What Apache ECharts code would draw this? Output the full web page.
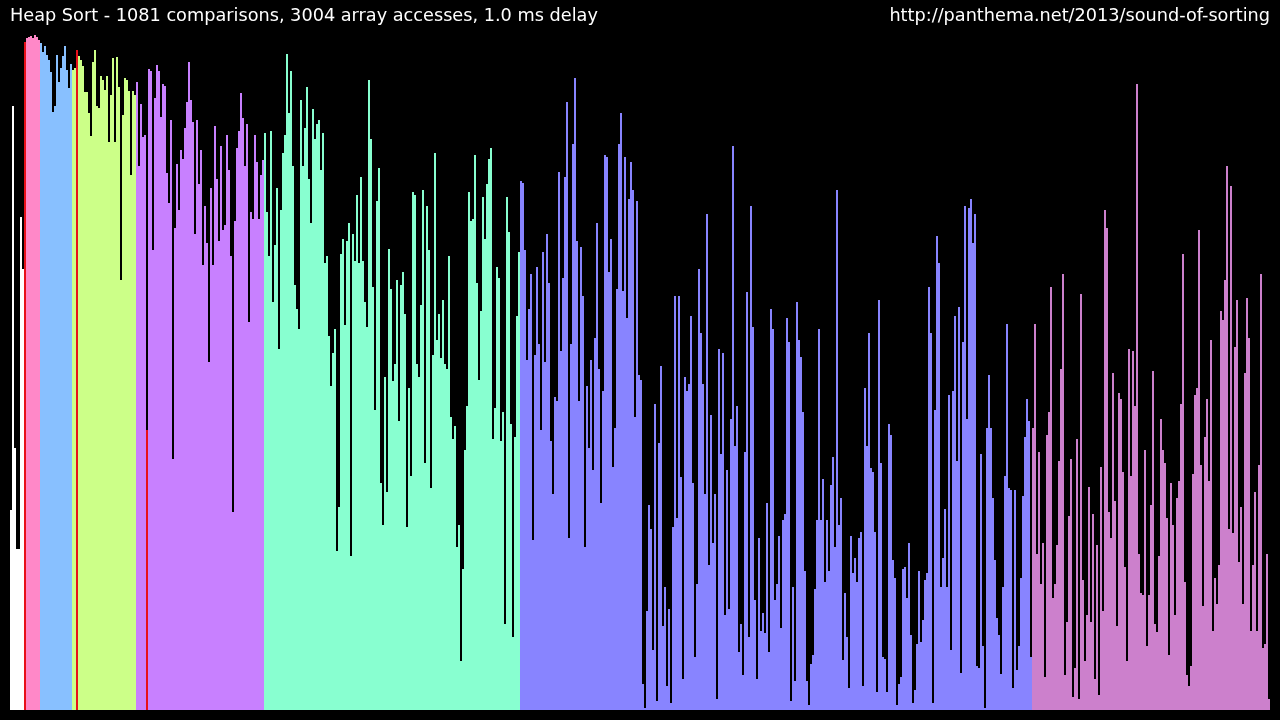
<!DOCTYPE html>
<html><head><meta charset="utf-8">
<script src="https://cdn.jsdelivr.net/npm/echarts@6/dist/echarts.min.js"></script>
<style>html,body{margin:0;padding:0;background:#000}#c{width:1280px;height:720px}</style>
</head><body><div id="c"></div>
<script>
const titleText = 'Heap Sort - 1081 comparisons, 3004 array accesses, 1.0 ms delay';
const urlText = 'http://panthema.net/2013/sound-of-sorting';

// values per heap level (array order left to right)
const whiteVals = [200,604,262,161,161,493,441];
const pinkVals = [668,672,673,674,672,675,673,670];
const blueVals = [667,658,664,655,650,638,598,604,655,628,642,654,664,640,622,646];
const greenVals = [640,642,660,654,650,644,618,618,597,574,648,660,604,602,634,630,620,634,568,615,652,568,653,623,430,595,632,630,619,535,619,615];
const purpleVals = [628,544,606,573,575,280,641,639,460,612,
645,639,593,626,624,537,507,590,251,482,
546,500,560,551,582,608,648,610,588,476,
590,526,560,445,504,467,348,522,445,584,
531,469,564,480,485,575,540,454,198,489,
562,579,617,592,544,586,388,498,491,575,
548,491,535,550];
const aquaVals = [577,498,454,579,408,465,522,361,500,557,
575,656,597,639,544,425,401,381,610,544,
582,623,531,487,601,571,586,590,540,577,
447,454,374,324,357,381,159,203,456,471,
385,469,487,154,476,449,515,447,533,449,
408,383,630,571,423,300,509,542,227,185,
333,218,461,421,329,346,430,289,425,438,
396,183,322,234,518,515,346,333,405,520,
247,504,460,222,355,557,370,396,352,410,
346,341,454,293,271,284,163,185,49,141,
260,304,518,489,491,555,427,330,399,513,
471,526,551,562,271,302,443,432,269,298,
86,513,478,286,73,273,394,458];
const periVals = [529,527,460,350,401,436,170,355,443,366,
280,458,348,476,427,269,216,313,309,538,
359,432,533,608,172,366,566,632,469,309,
463,414,163,324,262,350,240,372,487,341,
207,319,555,553,438,471,243,282,421,566,
597,419,553,392,511,548,520,293,509,335,
330,26,2,99,205,181,60,306,9,267,
344,84,123,24,101,7,183,414,192,414,
233,31,333,319,326,394,227,53,126,441,
377,326,216,496,145,295,167,216,11,361,
256,357,95,240,101,291,564,264,304,58,
86,35,258,418,73,504,383,110,31,172,
79,97,77,207,58,401,381,110,126,174,
82,190,196,392,368,9,123,29,408,370,
353,298,139,29,5,46,55,121,190,381,
190,231,128,190,139,225,253,163,520,185,
212,50,117,73,22,174,137,152,128,172,
178,24,322,264,377,242,238,178,18,410,
247,53,51,18,286,275,150,132,5,26,
33,141,143,112,167,75,7,20,66,139,
68,90,130,137,423,377,7,300,474,447,
123,152,201,123,315,60,319,394,249,403,
37,368,504,291,502,511,467,496,44,42,
256,64,2,282,335,282,212,150,92,75,
36,123,234,386,222,220,22,220,40,64,
132,214,273,311,289,53];
const mauveVals = [282,386,156,258,126,167,33,275,298,423,
112,126,165,249,341,436,35,88,194,251,
13,42,271,11,416,130,49,95,223,88,
196,31,165,15,243,99,500,482,198,172,
337,209,84,317,311,238,143,49,361,234,
359,304,626,156,117,115,260,64,115,205,
339,86,78,154,291,260,247,192,55,227,
185,95,212,229,306,456,128,35,24,44,
236,315,322,480,245,104,273,311,229,370,
79,132,106,145,399,390,430,544,181,524,
177,363,410,148,203,106,337,412,372,79,
145,218,79,245,436,62,66,156,11];

const levelColors = ['#ffffff','#ff88c8','#88c0ff','#ccff88','#c880ff','#88ffd0','#8884ff','#cc80cc'];
const redIdx = [7, 33, 68];
const redColor = '#e8101a';

const levels = [whiteVals, pinkVals, blueVals, greenVals, purpleVals, aquaVals, periVals, mauveVals];
const data = [];
levels.forEach((vals, li) => vals.forEach(v => {
  const i = data.length;
  data.push({ value: v, itemStyle: { color: redIdx.includes(i) ? redColor : levelColors[li] } });
}));
const categories = data.map((d, i) => String(i));

const chart = echarts.init(document.getElementById('c'), null, { renderer: 'canvas' });
const tStyle = { color: '#ffffff', fontSize: 17.7, fontWeight: 'normal', fontFamily: 'DejaVu Sans' };
chart.setOption({
  backgroundColor: '#000000',
  animation: false,
  title: [
    { text: titleText, left: 10, top: 7, padding: 0, textStyle: tStyle },
    { text: urlText, right: 10, top: 7, padding: 0, textStyle: tStyle }
  ],
  grid: { left: 10, right: 10, top: 35, bottom: 10 },
  xAxis: { type: 'category', data: categories, show: false },
  yAxis: { type: 'value', min: 0, max: 675, show: false },
  series: [{ type: 'bar', data: data, barWidth: '100%', barCategoryGap: '0%', barGap: '0%', large: false }]
});
</script></body></html>
